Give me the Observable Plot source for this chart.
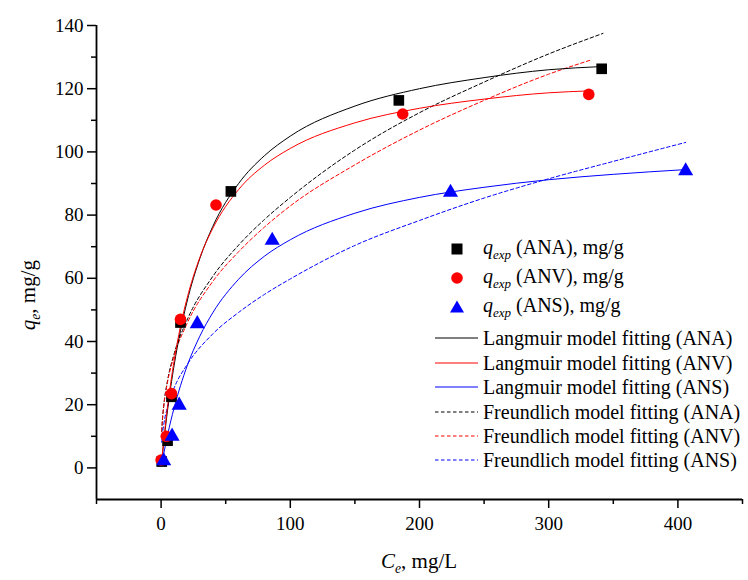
<!DOCTYPE html>
<html>
<head>
<meta charset="utf-8">
<script src="https://cdn.jsdelivr.net/npm/d3@7"></script>
<script src="https://cdn.jsdelivr.net/npm/@observablehq/plot@0.6"></script>
<style>
  body { margin: 0; background: #fff; }
  #chart { position: relative; width: 748px; height: 580px; font-family: "Liberation Serif", "Times New Roman", serif; color: #000; }
  #chart svg text { font-family: "Liberation Serif", "Times New Roman", serif !important; font-size: 19px; }
  .ttl { position: absolute; font-size: 21px; white-space: nowrap; }
  .ttl sub, .leg sub { font-size: 0.65em; }
  .leg { position: absolute; left: 430px; height: 28px; display: flex; align-items: center; font-size: 20px; white-space: nowrap; }
</style>
</head>
<body>
<div id="chart"></div>
<script>
// ---- Experimental data (Ce mg/L, qe mg/g) ----
const anaC = [0.5, 5, 8, 15, 54, 184, 341];
const anaQ = [2, 8.6, 22.5, 46, 87.5, 116.3, 126.3];
const anvC = [0, 4, 8, 15, 42.5, 187, 331];
const anvQ = [2.5, 10, 23.5, 47, 83.2, 112, 118.2];
const ansC = [2, 8.5, 14, 28, 86, 224, 406];
const ansQ = [2.2, 10, 19.8, 45.6, 72, 87.2, 94];

// ---- Langmuir fitted curves ----
const langAnaC = [0.5, 2, 5, 10, 15, 20, 30, 40, 60, 80, 100, 150, 200, 250, 300, 341];
const langAnaQ = [2.1, 7.9, 18.3, 32.3, 43.4, 52.5, 66.3, 76.4, 90, 98.8, 105, 114.5, 120, 123.5, 126, 127];
const langAnvC = [0.5, 2, 5, 10, 15, 20, 30, 40, 60, 80, 100, 150, 200, 250, 300, 331];
const langAnvQ = [2.2, 8.5, 19.4, 33.7, 44.8, 53.5, 66.6, 75.8, 88.1, 95.8, 101.1, 109.2, 113.8, 116.7, 118.7, 119.3];
const langAnsC = [1, 2, 5, 10, 15, 20, 30, 40, 60, 80, 100, 150, 200, 250, 300, 350, 406];
const langAnsQ = [2.3, 4.4, 10.4, 18.9, 26, 32.1, 41.7, 49.1, 59.7, 67, 72.2, 80.6, 85.6, 88.8, 91.2, 92.9, 94.4];

// ---- Freundlich fitted curves ----
const freAnaC = [0.5, 1, 2, 5, 10, 20, 40, 60, 80, 100, 150, 200, 250, 300, 342];
const freAnaQ = [11.5, 15, 19.5, 27.7, 36, 46.7, 60.6, 70.5, 78.6, 85.6, 100.6, 112.4, 122.1, 131, 137.5];
const freAnvC = [0.5, 1, 2, 5, 10, 20, 40, 60, 80, 100, 150, 200, 250, 300, 332];
const freAnvQ = [11.6, 15, 19.4, 27.2, 35.3, 45.6, 59, 68.4, 76.2, 82.9, 95.9, 106.9, 116.3, 124.6, 129];
const freAnsC = [0.5, 1, 2, 5, 10, 20, 40, 60, 80, 100, 150, 200, 250, 300, 350, 406];
const freAnsQ = [8.1, 10.5, 13.6, 19.3, 25.2, 32.6, 42.4, 49.2, 54.9, 59.8, 70.4, 78.3, 85.4, 91.5, 97, 103];

// ---- Axes ----
const xDomain = [-50, 450];
const yDomain = [-10, 140];
const xMajor = [0, 100, 200, 300, 400];
const xMinor = [-50, 50, 150, 250, 350, 450];
const yMajor = [0, 20, 40, 60, 80, 100, 120, 140];
const yMinor = [10, 30, 50, 70, 90, 110, 130];

// ---- Legend ----
const legendLabels = [
  "<i>q</i><sub><i>exp</i></sub> (ANA), mg/g",
  "<i>q</i><sub><i>exp</i></sub> (ANV), mg/g",
  "<i>q</i><sub><i>exp</i></sub> (ANS), mg/g",
  "Langmuir model fitting (ANA)",
  "Langmuir model fitting (ANV)",
  "Langmuir model fitting (ANS)",
  "Freundlich model fitting (ANA)",
  "Freundlich model fitting (ANV)",
  "Freundlich model fitting (ANS)"
];
const legendKinds = ["square", "circle", "triangle", "solid", "solid", "solid", "dash", "dash", "dash"];
const legendColors = ["#000", "#ff0000", "#0000ff", "#000", "#ff0000", "#0000ff", "#000", "#ff0000", "#0000ff"];

const pts = (C, Q) => C.map((c, i) => ({C: c, q: Q[i]}));
const DASH = "3.5,2.5";
const FONT = "Liberation Serif";

const plot = Plot.plot({
  width: 748, height: 580,
  marginLeft: 96, marginRight: 6, marginTop: 25, marginBottom: 81,
  x: {domain: xDomain},
  y: {domain: yDomain},
  style: {fontFamily: FONT, fontSize: "19px", color: "#000", background: "transparent"},
  marks: [
    Plot.axisX(xMajor, {tickSize: 9, tickPadding: 8, label: null, strokeWidth: 1.5, fontFamily: FONT, fontSize: 19}),
    Plot.axisX(xMinor, {tickSize: 5, text: null, label: null, strokeWidth: 1.5}),
    Plot.axisY(yMajor, {tickSize: 9, tickPadding: 4, label: null, strokeWidth: 1.5, fontFamily: FONT, fontSize: 19}),
    Plot.axisY(yMinor, {tickSize: 5, text: null, label: null, strokeWidth: 1.5}),
    Plot.ruleY([yDomain[0]], {strokeWidth: 1.8}),
    Plot.ruleX([xDomain[0]], {strokeWidth: 1.8}),
    Plot.line(pts(freAnaC, freAnaQ), {x: "C", y: "q", stroke: "#000", strokeWidth: 1, strokeDasharray: DASH, curve: "monotone-x"}),
    Plot.line(pts(freAnvC, freAnvQ), {x: "C", y: "q", stroke: "#ff0000", strokeWidth: 1, strokeDasharray: DASH, curve: "monotone-x"}),
    Plot.line(pts(freAnsC, freAnsQ), {x: "C", y: "q", stroke: "#0000ff", strokeWidth: 1, strokeDasharray: DASH, curve: "monotone-x"}),
    Plot.line(pts(langAnaC, langAnaQ), {x: "C", y: "q", stroke: "#000", strokeWidth: 1, curve: "monotone-x"}),
    Plot.line(pts(langAnvC, langAnvQ), {x: "C", y: "q", stroke: "#ff0000", strokeWidth: 1, curve: "monotone-x"}),
    Plot.line(pts(langAnsC, langAnsQ), {x: "C", y: "q", stroke: "#0000ff", strokeWidth: 1, curve: "monotone-x"}),
    Plot.dot(pts(anaC, anaQ), {x: "C", y: "q", symbol: "square", fill: "#000", r: 6}),
    Plot.dot(pts(anvC, anvQ), {x: "C", y: "q", symbol: "circle", fill: "#ff0000", r: 5.8}),
    Plot.dot(pts(ansC, ansQ), {x: "C", y: "q", symbol: "triangle", fill: "#0000ff", r: 5.6})
  ]
});

const chart = document.getElementById("chart");
chart.appendChild(plot);

// Axis titles
const yt = document.createElement("div");
yt.className = "ttl";
yt.innerHTML = "<i>q</i><sub><i>e</i></sub>, mg/g";
chart.appendChild(yt);
yt.style.left = (30 - yt.offsetWidth / 2) + "px";
yt.style.top = (295 - yt.offsetHeight / 2) + "px";
yt.style.transform = "rotate(-90deg)";

const xt = document.createElement("div");
xt.className = "ttl";
xt.innerHTML = "<i>C</i><sub><i>e</i></sub>, mg/L";
chart.appendChild(xt);
xt.style.left = (419 - xt.offsetWidth / 2) + "px";
xt.style.top = (563 - xt.offsetHeight / 2) + "px";

// Legend
const rowY = [249, 278, 307, 338, 363, 387, 412, 436, 460];
legendLabels.forEach((lab, i) => {
  const row = document.createElement("div");
  row.className = "leg";
  row.style.top = (rowY[i] - 14) + "px";
  const k = legendKinds[i], c = legendColors[i];
  let g = "";
  if (k === "square") g = `<rect x="21.5" y="8.5" width="11" height="11" fill="${c}"/>`;
  else if (k === "circle") g = `<circle cx="27" cy="14" r="5.8" fill="${c}"/>`;
  else if (k === "triangle") g = `<path d="M27,7.5 L34,19.5 L20,19.5 Z" fill="${c}"/>`;
  else g = `<line x1="5" x2="48" y1="14" y2="14" stroke="${c}" stroke-width="1" ${k === "dash" ? `stroke-dasharray="${DASH}"` : ""}/>`;
  row.innerHTML = `<svg width="53" height="28" style="flex:none">${g}</svg><span>${lab}</span>`;
  chart.appendChild(row);
});
</script>
</body>
</html>
